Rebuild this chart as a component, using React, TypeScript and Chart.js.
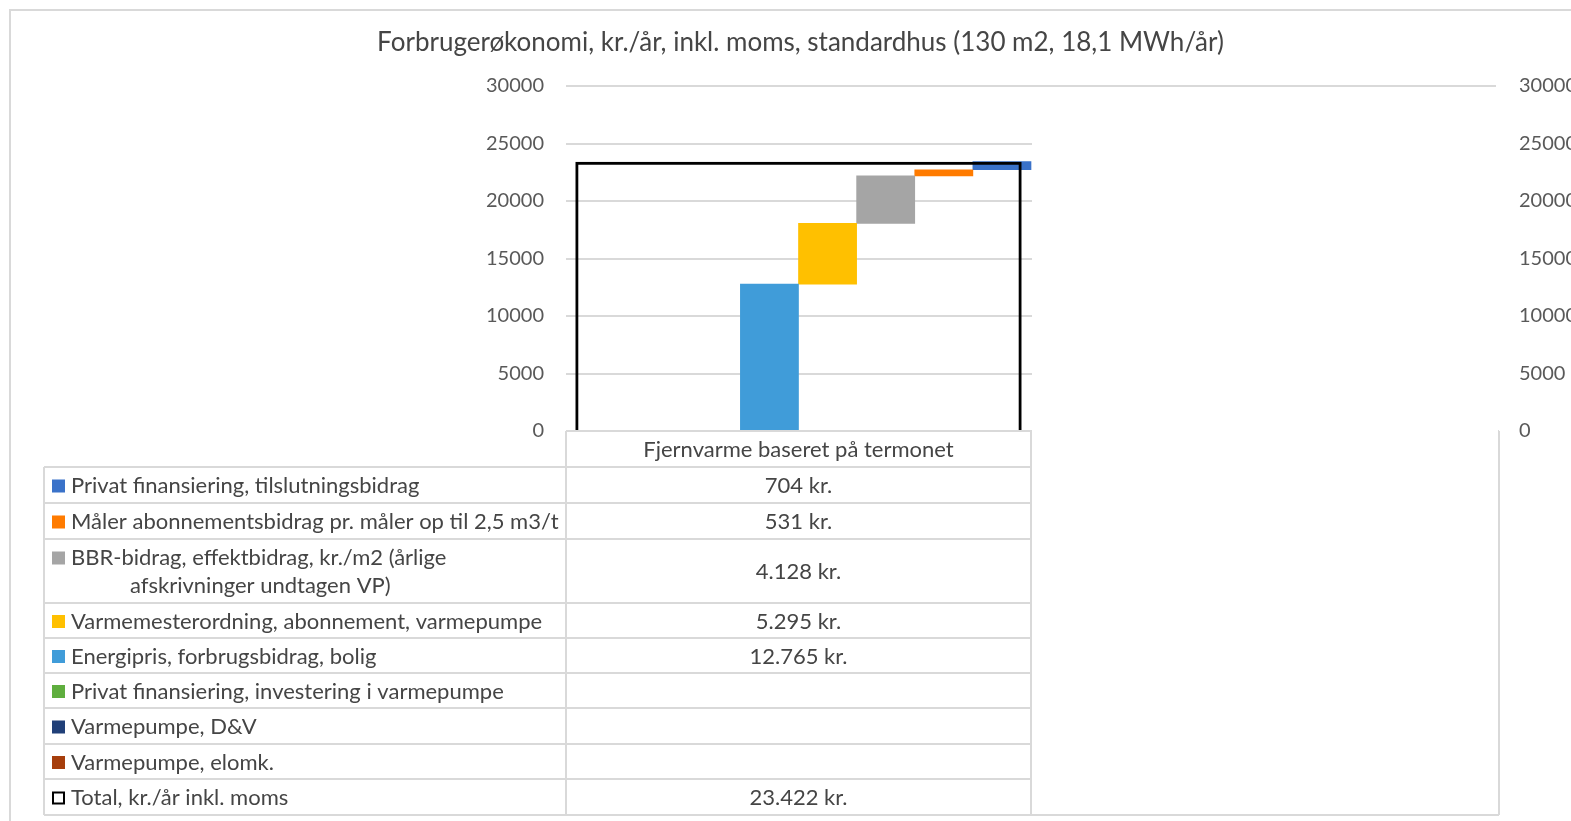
import React, { useEffect, useRef } from 'react';
import { Chart, registerables } from 'chart.js';

Chart.register(...registerables);

// ---------- data ----------
const categories = ['Fjernvarme baseret på termonet', ''];
const titleText = 'Forbrugerøkonomi, kr./år, inkl. moms, standardhus (130 m2, 18,1 MWh/år)';

const privatTilslutning: (number | null)[] = [704, null];
const maalerBidrag: (number | null)[] = [531, null];
const bbrBidrag: (number | null)[] = [4128, null];
const varmemester: (number | null)[] = [5295, null];
const energipris: (number | null)[] = [12765, null];
const privatVarmepumpe: (number | null)[] = [null, null];
const varmepumpeDV: (number | null)[] = [null, null];
const varmepumpeElomk: (number | null)[] = [null, null];
const totalKr: (number | null)[] = [23422, null];

const yTickValues = [0, 5000, 10000, 15000, 20000, 25000, 30000];

// table rows (in table order), label lines as shown
const tableLabels: string[][] = [
  ['Privat finansiering, tilslutningsbidrag'],
  ['Måler abonnementsbidrag pr. måler op til 2,5 m3/t'],
  ['BBR-bidrag, effektbidrag, kr./m2 (årlige', 'afskrivninger undtagen VP)'],
  ['Varmemesterordning, abonnement, varmepumpe'],
  ['Energipris, forbrugsbidrag, bolig'],
  ['Privat finansiering, investering i varmepumpe'],
  ['Varmepumpe, D&V'],
  ['Varmepumpe, elomk.'],
  ['Total, kr./år inkl. moms'],
];
const tableValues = [privatTilslutning, maalerBidrag, bbrBidrag, varmemester, energipris, privatVarmepumpe, varmepumpeDV, varmepumpeElomk, totalKr];
const tableColors = ['#3A72C9', '#FF7B00', '#A5A5A5', '#FFC000', '#409CD9', '#5FAE3E', '#203F78', '#A63E0C', '#FFFFFF'];

// bar slot order (left to right) = reverse of table order, without total
const slotOrder = [7, 6, 5, 4, 3, 2, 1, 0];

const FONT = 'Lato, "Open Sans", sans-serif';
const TEXT = '#454545';
const GRID = '#D9D9D9';

function fmtKr(v: number | null): string {
  if (v === null || v === undefined) return '';
  return v.toString().replace(/\B(?=(\d{3})+(?!\d))/g, '.') + ' kr.';
}

// row heights of the data table
const headerH = 36;
const rowH = [36, 36, 64, 35, 35, 35, 36, 35, 36];

const framePlugin = {
  id: 'frame',
  beforeDraw(chart: any) {
    const ctx = chart.ctx;
    ctx.save();
    ctx.fillStyle = '#FFFFFF';
    ctx.fillRect(0, 0, chart.width, chart.height);
    ctx.strokeStyle = GRID;
    ctx.lineWidth = 2;
    ctx.strokeRect(10, 10, chart.width + 20, chart.height + 20);
    ctx.restore();
  },
};

const tablePlugin = {
  id: 'dataTable',
  afterDraw(chart: any) {
    const ctx = chart.ctx;
    const area = chart.chartArea;
    const xs = chart.scales.x;
    const colLeft = 44;
    const colMid = area.left;
    const colRight = (xs.getPixelForValue(0) + xs.getPixelForValue(1)) / 2;
    const tableRight = area.right + 3;
    const top = area.bottom;
    const rowTops: number[] = [];
    let y = top + headerH;
    for (let i = 0; i < rowH.length; i++) {
      rowTops.push(y);
      y += rowH[i];
    }
    const bottom = y;

    ctx.save();
    ctx.strokeStyle = GRID;
    ctx.lineWidth = 2;
    ctx.beginPath();
    ctx.moveTo(colMid, top);
    ctx.lineTo(tableRight, top);
    for (const ry of rowTops) {
      ctx.moveTo(colLeft, ry);
      ctx.lineTo(tableRight, ry);
    }
    ctx.moveTo(colLeft, bottom);
    ctx.lineTo(tableRight, bottom);
    ctx.moveTo(colLeft, top + headerH);
    ctx.lineTo(colLeft, bottom);
    ctx.moveTo(colMid, top);
    ctx.lineTo(colMid, bottom);
    ctx.moveTo(colRight, top);
    ctx.lineTo(colRight, bottom);
    ctx.moveTo(tableRight, top);
    ctx.lineTo(tableRight, bottom);
    ctx.stroke();

    ctx.fillStyle = TEXT;
    ctx.font = `22px ${FONT}`;
    ctx.textBaseline = 'middle';
    ctx.textAlign = 'center';
    ctx.fillText(categories[0], (colMid + colRight) / 2, top + headerH / 2 + 1);

    for (let i = 0; i < tableLabels.length; i++) {
      const rt = rowTops[i];
      const h = rowH[i];
      const lines = tableLabels[i];
      const lineGap = 28;
      const firstY = rt + h / 2 - ((lines.length - 1) * lineGap) / 2 + 1;
      const sw = 13;
      const sy = firstY - sw / 2;
      if (i === tableLabels.length - 1) {
        ctx.fillStyle = '#FFFFFF';
        ctx.fillRect(52, sy, sw, sw);
        ctx.strokeStyle = '#000000';
        ctx.lineWidth = 2;
        ctx.strokeRect(53, sy + 1, sw - 2, sw - 2);
      } else {
        ctx.fillStyle = tableColors[i];
        ctx.fillRect(52, sy, sw, sw);
      }
      ctx.fillStyle = TEXT;
      ctx.textAlign = 'left';
      lines.forEach((ln, k) => {
        ctx.fillText(ln, k === 0 ? 71 : 130, firstY + k * lineGap);
      });
      ctx.textAlign = 'center';
      const v = tableValues[i][0];
      ctx.fillText(fmtKr(v), (colMid + colRight) / 2, rt + h / 2 + 1);
    }

    // white cover over the second category
    ctx.fillStyle = '#FFFFFF';
    ctx.fillRect(colRight + 1, 118, tableRight - colRight - 2, bottom - 2 - 118);
    ctx.restore();
  },
};

export default function App() {
  const ref = useRef<HTMLCanvasElement | null>(null);

  useEffect(() => {
    if (!ref.current) return;
    const series = [privatTilslutning, maalerBidrag, bbrBidrag, varmemester, energipris, privatVarmepumpe, varmepumpeDV, varmepumpeElomk];
    // waterfall: floating bars built from cumulative sums in slot order
    const floating: any[][] = series.map(() => []);
    for (let c = 0; c < categories.length; c++) {
      let base = 0;
      for (const s of slotOrder) {
        const v = series[s][c];
        if (v === null || v === undefined) {
          floating[s][c] = null;
        } else {
          floating[s][c] = [base, base + v];
          base += v;
        }
      }
    }
    const datasets: any[] = slotOrder.map((s) => ({
      label: tableLabels[s].join(' '),
      data: floating[s],
      backgroundColor: tableColors[s],
      borderWidth: 0,
      yAxisID: 'y',
      categoryPercentage: 1,
      barPercentage: 1,
      order: 1,
    }));
    datasets.push({
      label: tableLabels[8].join(' '),
      data: totalKr,
      backgroundColor: 'rgba(0,0,0,0)',
      borderColor: '#000000',
      borderWidth: 3,
      borderSkipped: 'start',
      yAxisID: 'y2',
      grouped: false,
      barPercentage: 0.96,
      categoryPercentage: 1,
      order: -1,
    });

    const tickFont = { family: FONT, size: 20 };
    const plain = (v: any) => String(v);
    const chart = new Chart(ref.current, {
      type: 'bar',
      data: { labels: categories, datasets },
      plugins: [framePlugin, tablePlugin],
      options: {
        responsive: false,
        animation: false,
        devicePixelRatio: 1,
        layout: { padding: { left: 30, right: 0, top: 0, bottom: 0 } },
        plugins: {
          legend: { display: false },
          tooltip: { enabled: false },
          title: {
            display: true,
            text: titleText,
            color: TEXT,
            font: { family: FONT, size: 26, weight: 'normal' },
            padding: { top: 27.4, bottom: 27.4 },
          },
        },
        scales: {
          x: {
            display: true,
            grid: { display: false },
            border: { display: false },
            ticks: { display: false },
            afterFit: (s: any) => { s.height = 390; },
          },
          y: {
            position: 'left',
            min: 0,
            max: 30000,
            afterBuildTicks: (s: any) => { s.ticks = yTickValues.map((v) => ({ value: v })); },
            grid: { color: GRID, lineWidth: 2, drawTicks: false },
            border: { display: false },
            ticks: { color: '#595959', font: tickFont, padding: 22, callback: plain },
            afterFit: (s: any) => { s.width = 536; },
          },
          y2: {
            position: 'right',
            min: 0,
            max: 30000,
            afterBuildTicks: (s: any) => { s.ticks = yTickValues.map((v) => ({ value: v })); },
            grid: { display: false, drawTicks: false },
            border: { display: false },
            ticks: { color: '#595959', font: tickFont, padding: 23, callback: plain },
            afterFit: (s: any) => { s.width = 75; },
          },
        },
      } as any,
    });
    return () => chart.destroy();
  }, []);

  return (
    <div style={{ position: 'fixed', left: 0, top: 0, width: 1571, height: 821, background: '#fff' }}>
      <canvas ref={ref} width={1571} height={821} style={{ width: 1571, height: 821, display: 'block' }} />
    </div>
  );
}
